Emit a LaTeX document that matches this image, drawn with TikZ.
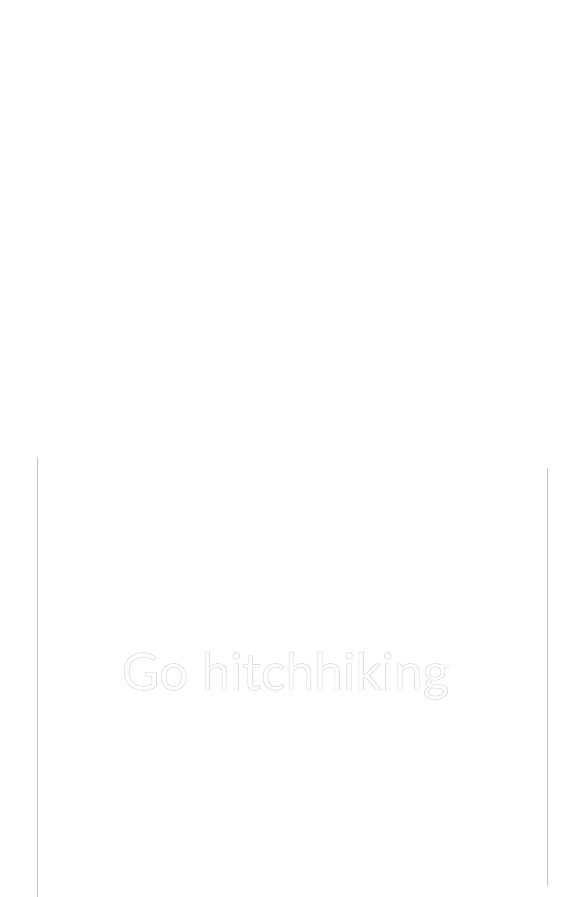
\documentclass[tikz,border=0pt]{standalone}
\usepackage{fontspec}
\setmainfont{Lato}
\usepackage{xcolor}
\usetikzlibrary{positioning}
\definecolor{rulegray}{HTML}{C4C4C4}
\tikzstyle{rule} = [draw=rulegray, line width=0.8pt]
\tikzstyle{ghost} = [text=white, font=\fontsize{51.5}{60}\selectfont, inner sep=0pt, anchor=base]
\newcommand{\outlined}[1]{\special{pdf:literal direct 2 Tr 0.4 w 0.8 G}#1\special{pdf:literal direct 0 Tr}}

\begin{document}
\begin{tikzpicture}[x=1pt, y=1pt]
                                \useasboundingbox (0,0) rectangle (588,-897);
                                \coordinate (lt) at (37,-457);
                                \coordinate (lb) at (37,-897);
                                \coordinate (rt) at (547,-468);
                                \coordinate (rb) at (547,-886);
                                \draw [rule] (lt) -- (lb);
                                \draw [rule] (rt) -- (rb);
                                \node (title) [ghost] at (285.5,-690) {\outlined{Go hitchhiking}};
                            \end{tikzpicture}
\end{document}
